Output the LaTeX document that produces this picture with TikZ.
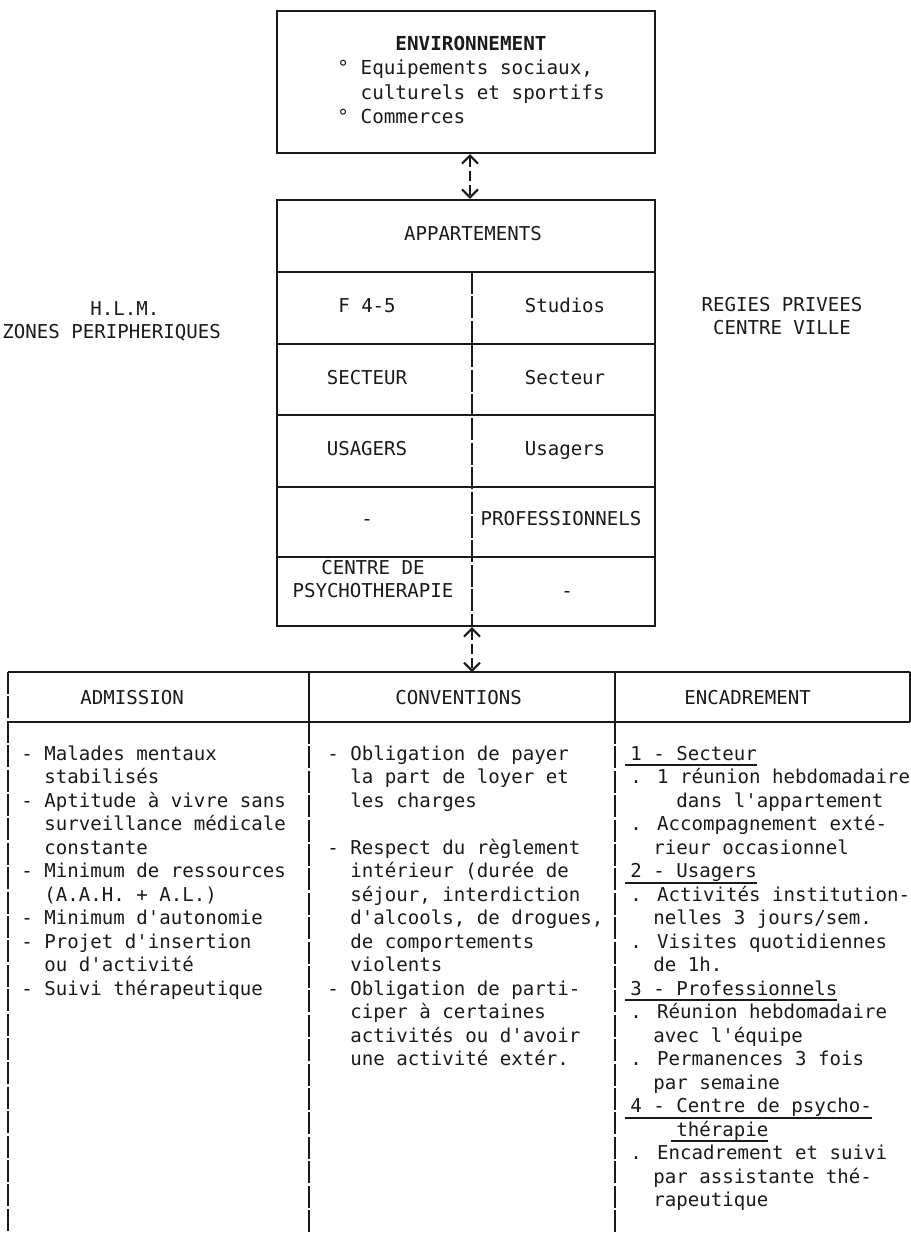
\documentclass[tikz,border=0pt]{standalone}
\usepackage{fontspec}
\newfontfamily\tw{DejaVu Sans Mono}
\usepackage{tikz}
\usetikzlibrary{arrows.meta,calc,positioning}
\definecolor{ink}{HTML}{1A1A1A}
\newlength\ulwd
\newcommand\ulin[1]{\settowidth{\ulwd}{#1}\rlap{\kern-2.5pt\rule[-3pt]{\dimexpr\ulwd+2.5pt\relax}{0.9pt}}#1}
\newcommand\ind{\hphantom{xx}}
\newcommand\indd{\hphantom{xxxx}}

\begin{document}
\begin{tikzpicture}[x=0.5pt,y=-0.5pt,
  txt/.style={font=\tw\fontsize{9.55}{11.75}\selectfont,inner sep=0pt,text=ink},
  box/.style={draw=ink,line width=1.2pt,inner sep=0pt},
  rule/.style={ink,line width=1.1pt},
  sep/.style={ink,line width=1pt,dash pattern=on 11pt off 1.2pt},
  biarrow/.style={ink,line width=1pt,dash pattern=on 5pt off 2pt,{Straight Barb[length=4pt,width=8pt]}-{Straight Barb[length=4pt,width=8pt]}}]
  \useasboundingbox (0,0) rectangle (911,1233);

  % environnement (base = last line)
  \node[box,minimum width=189pt,minimum height=71pt] (env) at (466,82) {};
  \node[txt,anchor=base west,align=left,font=\tw\fontsize{9.65}{12.25}\selectfont] (envtxt) at (337,123.5)
    {\hphantom{xxxxx}\textbf{ENVIRONNEMENT}\\
     ° Equipements sociaux,\\
     \ind culturels et sportifs\\
     ° Commerces};

  % appartements
  \node[box,minimum width=189pt,minimum height=213pt] (app) at (466,413) {};
  \draw[biarrow] ($(env.south)+(4,0)$) -- ($(app.north)+(4,0)$);
  \foreach \y in {272,344,415,487,557} \draw[rule] (277,\y) -- (655,\y);
  \draw[sep] (472,272) -- (472,626);
  \node[txt,anchor=base] (appt) at (473,240) {APPARTEMENTS};
  \foreach \t/\x/\y/\n in {F 4-5/367/305/a1,Studios/565/305/b1,SECTEUR/367/377/a2,Secteur/565/377/b2,
      USAGERS/367/448/a3,Usagers/565/448/b3,-/367/518/a4,PROFESSIONNELS/561/518/b4,-/567/590/b5}
    \node[txt,anchor=base] (\n) at (\x,\y+7) {\t};
  \node[txt,anchor=base,align=center] (a5) at (373,597.5) {CENTRE DE\\PSYCHOTHERAPIE};

  \node[txt,anchor=base west,align=left] (hlm) at (2,338.5) {\hspace*{44pt}H.L.M.\\ZONES PERIPHERIQUES};
  \node[txt,anchor=base,align=center] (regie) at (782,334.5) {REGIES PRIVEES\\CENTRE VILLE};

  % tableau
  \coordinate (tabtop) at (472,672);
  \draw[biarrow] (app.south -| tabtop) -- (tabtop);
  \draw[rule] (8,672) -- (910,672);
  \draw[rule] (8,722) -- (910,722);
  \draw[rule] (910,672) -- (910,722);
  \foreach \x in {309,615} {\draw[rule] (\x,672) -- (\x,722); \draw[sep] (\x,722) -- (\x,1233);}
  \draw[sep] (8,672) -- (8,1233);
  \node[txt,anchor=base west] (hadm) at (80,704) {ADMISSION};
  \node[txt,anchor=base west] (hconv) at (395,704) {CONVENTIONS};
  \node[txt,anchor=base west] (henc) at (684,704) {ENCADREMENT};

  \node[txt,anchor=base west,align=left] (adm) at (21,995)
    {- Malades mentaux\\
     \ind stabilisés\\
     - Aptitude à vivre sans\\
     \ind surveillance médicale\\
     \ind constante\\
     - Minimum de ressources\\
     \ind (A.A.H. + A.L.)\\
     - Minimum d'autonomie\\
     - Projet d'insertion\\
     \ind ou d'activité\\
     - Suivi thérapeutique};
  \node[txt,anchor=base west,align=left] (conv) at (327,1065.5)
    {- Obligation de payer\\
     \ind la part de loyer et\\
     \ind les charges\\[11.75pt]
     - Respect du règlement\\
     \ind intérieur (durée de\\
     \ind séjour, interdiction\\
     \ind d'alcools, de drogues,\\
     \ind de comportements\\
     \ind violents\\
     - Obligation de parti-\\
     \ind ciper à certaines\\
     \ind activités ou d'avoir\\
     \ind une activité extér.};
  \node[txt,anchor=base west,align=left] (enc) at (630,1206.5)
    {\ulin{1 - Secteur}\\
     . 1 réunion hebdomadaire\\
     \indd dans l'appartement\\
     . Accompagnement exté-\\
     \ind rieur occasionnel\\
     \ulin{2 - Usagers}\\
     . Activités institution-\\
     \ind nelles 3 jours/sem.\\
     . Visites quotidiennes\\
     \ind de 1h.\\
     \ulin{3 - Professionnels}\\
     . Réunion hebdomadaire\\
     \ind avec l'équipe\\
     . Permanences 3 fois\\
     \ind par semaine\\
     \ulin{4 - Centre de psycho-}\\
     \indd\ulin{thérapie}\\
     . Encadrement et suivi\\
     \ind par assistante thé-\\
     \ind rapeutique};
\end{tikzpicture}
\end{document}
